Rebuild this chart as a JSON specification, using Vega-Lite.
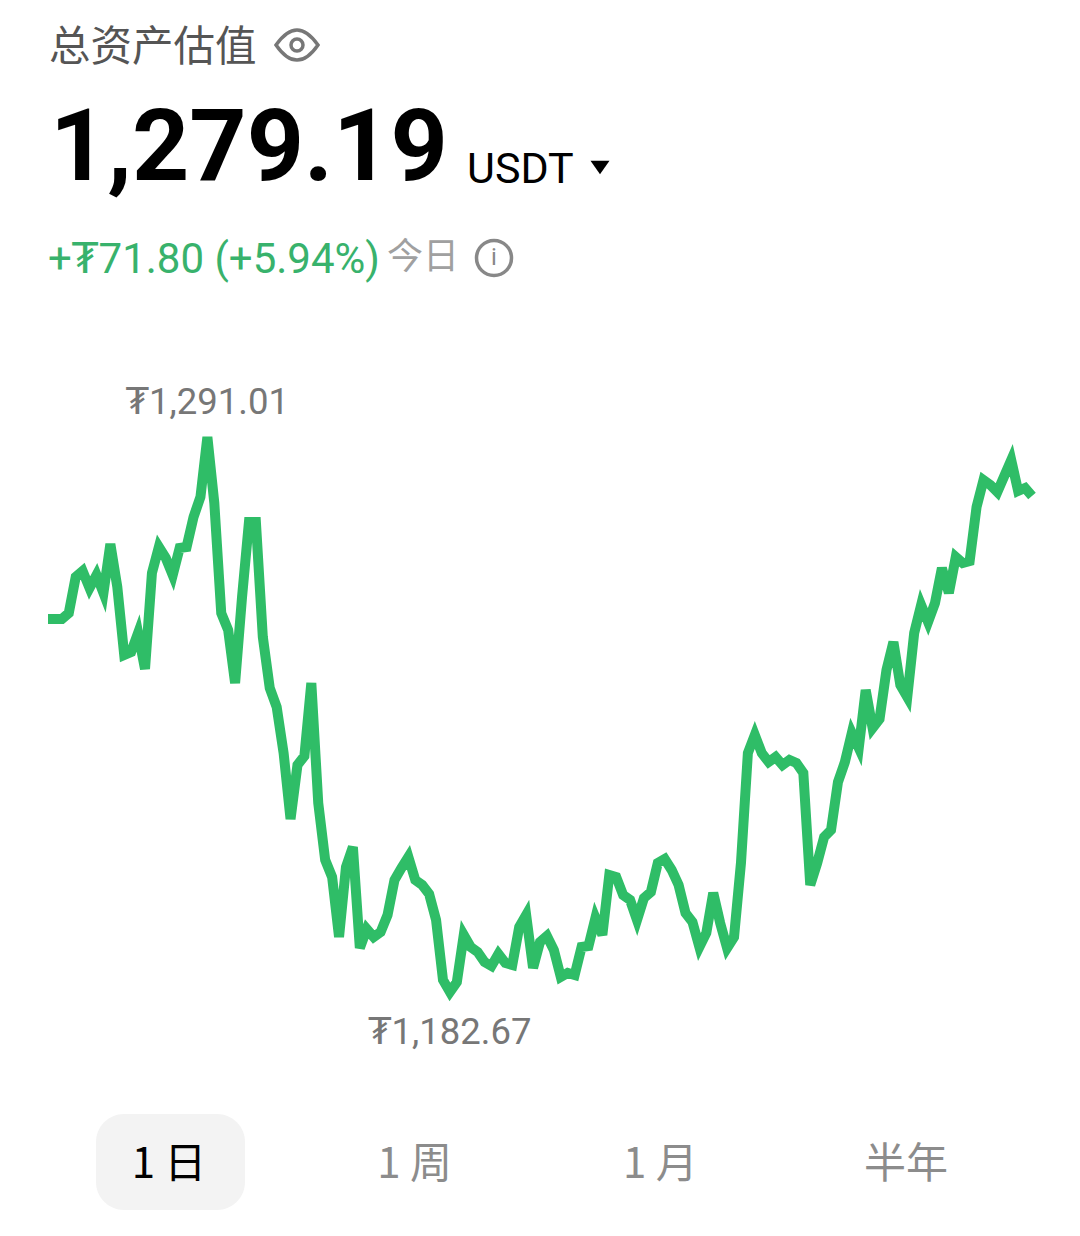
{"$schema":"https://vega.github.io/schema/vega-lite/v6.json","width":1080,"height":1236,"padding":0,"autosize":{"type":"fit","contains":"padding"},"background":"#ffffff","config":{"view":{"stroke":null}},"resolve":{"scale":{"x":"independent","y":"independent"}},"layer":[
{"data":{"values":[{"i":0,"v":1255.48},{"i":1,"v":1255.48},{"i":2,"v":1255.48},{"i":3,"v":1256.65},{"i":4,"v":1263.68},{"i":5,"v":1264.85},{"i":6,"v":1261.53},{"i":7,"v":1264.07},{"i":8,"v":1260.56},{"i":9,"v":1270.12},{"i":10,"v":1261.73},{"i":11,"v":1248.45},{"i":12,"v":1249.04},{"i":13,"v":1252.75},{"i":14,"v":1245.72},{"i":15,"v":1264.46},{"i":16,"v":1269.54},{"i":17,"v":1267.39},{"i":18,"v":1264.07},{"i":19,"v":1269.34},{"i":20,"v":1269.54},{"i":21,"v":1275.39},{"i":22,"v":1279.3},{"i":23,"v":1291.01},{"i":24,"v":1278.12},{"i":25,"v":1256.65},{"i":26,"v":1253.33},{"i":27,"v":1242.99},{"i":28,"v":1259.77},{"i":29,"v":1274.42},{"i":30,"v":1274.42},{"i":31,"v":1251.97},{"i":32,"v":1242.01},{"i":33,"v":1238.3},{"i":34,"v":1229.32},{"i":35,"v":1216.44},{"i":36,"v":1226.98},{"i":37,"v":1228.74},{"i":38,"v":1242.99},{"i":39,"v":1219.56},{"i":40,"v":1208.44},{"i":41,"v":1205.12},{"i":42,"v":1193.41},{"i":43,"v":1207.07},{"i":44,"v":1210.98},{"i":45,"v":1191.26},{"i":46,"v":1194.97},{"i":47,"v":1193.41},{"i":48,"v":1194.38},{"i":49,"v":1197.7},{"i":50,"v":1204.53},{"i":51,"v":1206.88},{"i":52,"v":1209.02},{"i":53,"v":1204.53},{"i":54,"v":1203.56},{"i":55,"v":1201.8},{"i":56,"v":1196.73},{"i":57,"v":1185.01},{"i":58,"v":1182.67},{"i":59,"v":1184.62},{"i":60,"v":1193.8},{"i":61,"v":1191.46},{"i":62,"v":1190.48},{"i":63,"v":1188.53},{"i":64,"v":1187.75},{"i":65,"v":1190.09},{"i":66,"v":1188.33},{"i":67,"v":1187.94},{"i":68,"v":1195.36},{"i":69,"v":1197.7},{"i":70,"v":1187.36},{"i":71,"v":1192.43},{"i":72,"v":1193.6},{"i":73,"v":1190.87},{"i":74,"v":1185.6},{"i":75,"v":1186.38},{"i":76,"v":1185.99},{"i":77,"v":1191.46},{"i":78,"v":1191.65},{"i":79,"v":1197.12},{"i":80,"v":1193.8},{"i":81,"v":1205.51},{"i":82,"v":1205.12},{"i":83,"v":1201.61},{"i":84,"v":1200.63},{"i":85,"v":1196.73},{"i":86,"v":1201.02},{"i":87,"v":1202.19},{"i":88,"v":1207.85},{"i":89,"v":1208.63},{"i":90,"v":1206.49},{"i":91,"v":1203.56},{"i":92,"v":1198.09},{"i":93,"v":1196.34},{"i":94,"v":1191.46},{"i":95,"v":1194.19},{"i":96,"v":1202},{"i":97,"v":1196.14},{"i":98,"v":1191.26},{"i":99,"v":1193.41},{"i":100,"v":1207.85},{"i":101,"v":1229.32},{"i":102,"v":1232.84},{"i":103,"v":1229.32},{"i":104,"v":1227.57},{"i":105,"v":1228.54},{"i":106,"v":1226.98},{"i":107,"v":1227.96},{"i":108,"v":1227.37},{"i":109,"v":1225.42},{"i":110,"v":1203.56},{"i":111,"v":1207.85},{"i":112,"v":1212.93},{"i":113,"v":1214.29},{"i":114,"v":1223.66},{"i":115,"v":1227.57},{"i":116,"v":1233.23},{"i":117,"v":1230.3},{"i":118,"v":1241.62},{"i":119,"v":1234.2},{"i":120,"v":1235.96},{"i":121,"v":1245.53},{"i":122,"v":1250.99},{"i":123,"v":1242.6},{"i":124,"v":1240.26},{"i":125,"v":1252.75},{"i":126,"v":1258.21},{"i":127,"v":1254.9},{"i":128,"v":1258.6},{"i":129,"v":1265.44},{"i":130,"v":1260.56},{"i":131,"v":1267.58},{"i":132,"v":1266.41},{"i":133,"v":1266.8},{"i":134,"v":1277.34},{"i":135,"v":1282.61},{"i":136,"v":1281.64},{"i":137,"v":1280.27},{"i":138,"v":1283.4},{"i":139,"v":1286.5},{"i":140,"v":1280.47},{"i":141,"v":1281.05},{"i":142,"v":1279.49}]},
"layer":[
{"mark":{"type":"line","stroke":"#2fbd67","strokeWidth":10,"strokeJoin":"miter","strokeMiterLimit":4,"strokeCap":"butt"},"encoding":{"x":{"field":"i","type":"quantitative","axis":null,"scale":{"domain":[0,142],"range":[48,1032],"nice":false,"zero":false}},"y":{"field":"v","type":"quantitative","axis":null,"scale":{"domain":[1182.67,1291.01],"range":[992,437],"nice":false,"zero":false}}}},
{"data":{"values":[{"i":23,"v":1291.01,"label":"₮1,291.01","off":"max"}]},"mark":{"type":"text","font":"Roboto, DejaVu Sans","fontSize":36.5,"color":"#777777","dy":-34,"align":"center","baseline":"middle"},"encoding":{"x":{"field":"i","type":"quantitative"},"y":{"field":"v","type":"quantitative"},"text":{"field":"label"}}},
{"data":{"values":[{"i":58,"v":1182.67,"label":"₮1,182.67","off":"min"}]},"mark":{"type":"text","font":"Roboto, DejaVu Sans","fontSize":36.5,"color":"#777777","dy":41,"align":"center","baseline":"middle"},"encoding":{"x":{"field":"i","type":"quantitative"},"y":{"field":"v","type":"quantitative"},"text":{"field":"label"}}}
]},
{"data":{"values":[{"t":"总资产估值"}]},"mark":{"type":"text","font":"Noto Sans CJK SC","fontSize":41.5,"color":"#555555","align":"left","baseline":"alphabetic"},"encoding":{"x":{"value":49},"y":{"value":61},"text":{"field":"t"}}},
{"data":{"values":[{"t":"1,279.19"}]},"mark":{"type":"text","font":"Roboto","fontSize":100,"fontWeight":700,"color":"#000000","align":"left","baseline":"alphabetic"},"encoding":{"x":{"value":50},"y":{"value":180},"text":{"field":"t"}}},
{"data":{"values":[{"t":"USDT"}]},"mark":{"type":"text","font":"Roboto","fontSize":43,"color":"#000000","align":"left","baseline":"alphabetic"},"encoding":{"x":{"value":467},"y":{"value":183},"text":{"field":"t"}}},
{"data":{"values":[{"t":"+₮71.80 (+5.94%)"}]},"mark":{"type":"text","font":"Roboto, DejaVu Sans","fontSize":42,"color":"#38b26c","align":"left","baseline":"alphabetic"},"encoding":{"x":{"value":48},"y":{"value":273},"text":{"field":"t"}}},
{"data":{"values":[{"t":"今日"}]},"mark":{"type":"text","font":"Noto Sans CJK SC","fontSize":36,"color":"#a0a0a0","align":"left","baseline":"alphabetic"},"encoding":{"x":{"value":387},"y":{"value":269},"text":{"field":"t"}}},
{"data":{"values":[{"t":"i"}]},"mark":{"type":"text","font":"Roboto","fontSize":24,"color":"#888888","align":"center","baseline":"middle"},"encoding":{"x":{"value":494},"y":{"value":258},"text":{"field":"t"}}},
{"data":{"values":[{"k":"info"}]},"mark":{"type":"point","shape":"circle","filled":false,"stroke":"#888888","strokeWidth":3.5,"size":1225,"opacity":1},"encoding":{"x":{"value":494},"y":{"value":258}}},
{"data":{"values":[{"k":"eye"}]},"mark":{"type":"point","shape":"M-1,0 Q-0.5,-0.72 0,-0.72 Q0.5,-0.72 1,0 Q0.5,0.72 0,0.72 Q-0.5,0.72 -1,0 Z","filled":false,"stroke":"#777777","strokeWidth":3.5,"size":1764,"opacity":1},"encoding":{"x":{"value":297},"y":{"value":45}}},
{"data":{"values":[{"k":"pupil"}]},"mark":{"type":"point","shape":"circle","filled":false,"stroke":"#777777","strokeWidth":3.5,"size":144,"opacity":1},"encoding":{"x":{"value":297},"y":{"value":45}}},
{"data":{"values":[{"k":"caret"}]},"mark":{"type":"point","shape":"M-1,-0.65 L1,-0.65 L0,0.75 Z","filled":true,"fill":"#000000","size":361,"opacity":1},"encoding":{"x":{"value":600},"y":{"value":167}}},
{"data":{"values":[{"k":"selected"}]},"mark":{"type":"rect","fill":"#f3f3f3","cornerRadius":28},"encoding":{"x":{"value":96},"x2":{"value":245},"y":{"value":1114},"y2":{"value":1210}}},
{"data":{"values":[{"tab":"1 日"},{"tab":"1 周"},{"tab":"1 月"},{"tab":"半年"}]},"mark":{"type":"text","font":"Noto Sans CJK SC","fontSize":42,"align":"center","baseline":"middle"},"encoding":{"x":{"field":"tab","type":"nominal","sort":null,"axis":null,"scale":{"type":"point","range":[169,906],"padding":0}},"y":{"value":1165},"text":{"field":"tab"},"color":{"condition":{"test":"datum.tab === '1 日'","value":"#000000"},"value":"#8c8c8c"}}}
]}
